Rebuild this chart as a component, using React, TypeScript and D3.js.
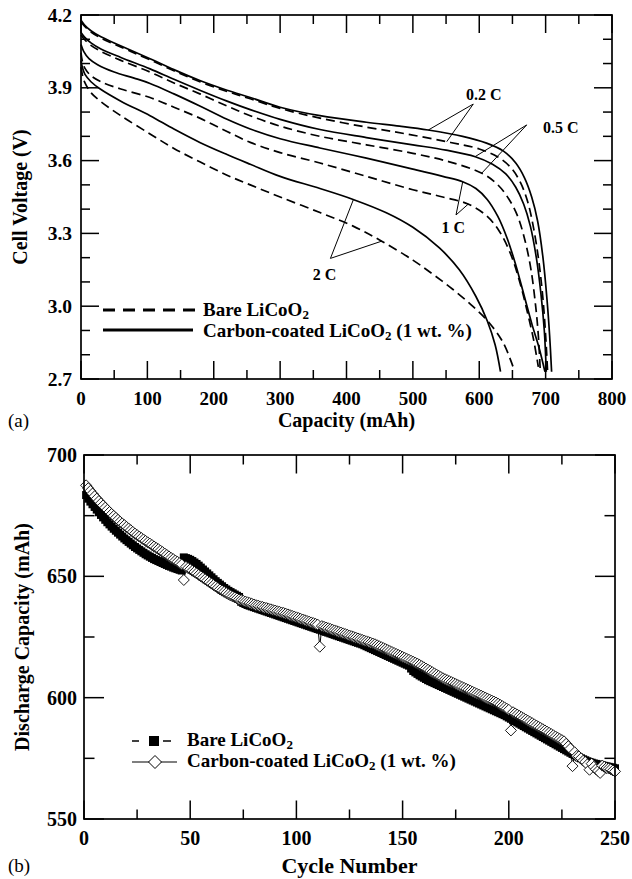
import React from 'react';
import * as d3 from 'd3';

// ---------- Panel (a): discharge curves (capacity mAh, voltage V) ----------
const bare02: [number, number][] = [[0,4.172],[5,4.155],[15,4.13],[30,4.105],[50,4.08],[75,4.05],[104,4.015],[140,3.97],[179,3.925],[220,3.885],[255,3.855],[300,3.815],[360,3.775],[430,3.738],[490,3.71],[551,3.678],[600,3.648],[628,3.615],[648,3.57],[662,3.51],[673,3.43],[682,3.32],[690,3.18],[696,3.03],[700,2.88],[703,2.73]];
const coat02: [number, number][] = [[0,4.178],[5,4.16],[15,4.135],[30,4.11],[50,4.085],[75,4.055],[104,4.02],[140,3.975],[179,3.93],[220,3.89],[255,3.86],[300,3.82],[360,3.785],[430,3.758],[480,3.742],[523,3.726],[575,3.70],[611,3.672],[636,3.64],[655,3.59],[668,3.53],[679,3.45],[688,3.35],[696,3.2],[702,3.03],[706,2.88],[709,2.73]];
const bare05: [number, number][] = [[0,4.118],[5,4.10],[15,4.075],[30,4.05],[60,4.013],[104,3.965],[140,3.92],[179,3.875],[220,3.825],[255,3.785],[300,3.742],[360,3.70],[430,3.665],[500,3.63],[555,3.595],[604,3.548],[628,3.50],[645,3.44],[658,3.37],[669,3.27],[678,3.15],[685,3.0],[689,2.88],[692,2.73]];
const coat05: [number, number][] = [[0,4.128],[5,4.11],[15,4.085],[30,4.06],[60,4.025],[104,3.978],[140,3.935],[179,3.89],[220,3.845],[255,3.81],[300,3.77],[360,3.728],[430,3.695],[500,3.665],[550,3.643],[594,3.616],[620,3.585],[640,3.545],[655,3.49],[667,3.42],[677,3.33],[686,3.2],[693,3.05],[698,2.9],[701,2.73]];
const bare1: [number, number][] = [[0,4.045],[2,4.01],[6,3.98],[15,3.95],[30,3.925],[60,3.895],[104,3.86],[140,3.82],[179,3.775],[220,3.72],[255,3.675],[300,3.633],[360,3.59],[430,3.535],[500,3.48],[545,3.45],[583,3.421],[610,3.375],[630,3.31],[648,3.21],[662,3.09],[673,2.97],[682,2.86],[689,2.75]];
const coat1: [number, number][] = [[0,4.078],[4,4.05],[12,4.02],[25,3.995],[50,3.965],[80,3.94],[104,3.918],[140,3.875],[179,3.825],[220,3.77],[255,3.73],[300,3.69],[360,3.652],[430,3.61],[500,3.565],[545,3.535],[575,3.513],[595,3.485],[612,3.44],[628,3.37],[642,3.28],[655,3.17],[668,3.04],[680,2.92],[690,2.83],[699,2.73]];
const bare2: [number, number][] = [[0,3.985],[2,3.955],[6,3.92],[15,3.88],[29,3.845],[60,3.785],[104,3.71],[140,3.65],[179,3.595],[220,3.54],[255,3.50],[300,3.45],[360,3.386],[410,3.33],[453,3.268],[500,3.19],[531,3.13],[560,3.07],[590,3.0],[614,2.935],[636,2.85],[651,2.75]];
const coat2: [number, number][] = [[0,4.012],[2,3.985],[6,3.955],[15,3.925],[29,3.895],[60,3.845],[104,3.785],[140,3.73],[179,3.675],[220,3.625],[255,3.585],[300,3.535],[360,3.485],[410,3.44],[460,3.385],[500,3.325],[540,3.24],[570,3.15],[595,3.04],[612,2.94],[624,2.84],[632,2.73]];

const bareCurves = [bare02, bare05, bare1, bare2];
const coatCurves = [coat02, coat05, coat1, coat2];

// rate callouts: label position, apex, two targets (data units)
const rateLabels = ['0.2 C', '0.5 C', '1 C', '2 C'];
const rateLabelPos: [number, number, string][] = [[580, 3.85, 'start'], [696, 3.714, 'start'], [561, 3.302, 'middle'], [367, 3.108, 'middle']];
const rateApex: [number, number][] = [[591, 3.833], [671.5, 3.747], [565, 3.376], [375.8, 3.197]];
const rateTargets: [number, number][][] = [
  [[523.2, 3.726], [551, 3.678]],
  [[593.6, 3.616], [603.7, 3.548]],
  [[575.1, 3.513], [583.5, 3.421]],
  [[410.2, 3.438], [453, 3.268]],
];

// ---------- Panel (b): cycle life ----------
const bareCycle: number[] = [
  683.5, 682.0, 680.8, 679.7, 678.6, 677.5, 676.4, 675.3, 674.3, 673.3,
  672.3, 671.4, 670.5, 669.6, 668.8, 668.0, 667.2, 666.4, 665.6, 664.9,
  664.2, 663.5, 662.8, 662.1, 661.5, 660.9, 660.3, 659.7, 659.1, 658.6,
  658.1, 657.6, 657.1, 656.7, 656.3, 655.9, 655.5, 655.1, 654.7, 654.3,
  654.0, 653.6, 653.3, 653.0, 652.7, 652.4, 657.8, 657.5, 657.2, 656.8,
  656.3, 655.7, 655.1, 654.4, 653.6, 652.8, 652.0, 651.2, 650.4, 649.6,
  648.8, 648.0, 647.3, 646.6, 645.9, 645.2, 644.6, 644.0, 643.5, 643.0,
  642.5, 642.0, 641.5, 639.5, 639.0, 638.6, 638.2, 637.9, 637.6, 637.3,
  637.0, 636.7, 636.4, 636.1, 635.8, 635.5, 635.2, 634.9, 634.6, 634.3,
  634.0, 633.7, 633.4, 633.1, 632.8, 632.5, 632.2, 631.9, 631.6, 631.3,
  631.0, 630.7, 630.4, 630.1, 629.8, 629.5, 629.2, 628.9, 628.6, 628.3,
  628.0, 627.7, 627.4, 627.1, 626.8, 626.5, 626.2, 625.9, 625.6, 625.3,
  625.0, 624.7, 624.4, 624.1, 623.8, 623.5, 623.2, 622.9, 622.6, 622.3,
  622.0, 621.6, 621.2, 620.8, 620.4, 620.0, 619.6, 619.2, 618.8, 618.4,
  618.0, 617.6, 617.2, 616.8, 616.4, 616.0, 615.6, 615.2, 614.8, 614.4,
  614.0, 613.6, 613.2, 612.0, 611.0, 610.4, 609.8, 609.2, 608.7, 608.2,
  607.7, 607.2, 606.8, 606.4, 606.0, 605.6, 605.2, 604.8, 604.4, 604.0,
  603.6, 603.2, 602.8, 602.4, 602.0, 601.6, 601.2, 600.8, 600.4, 600.0,
  599.6, 599.2, 598.8, 598.4, 598.0, 597.6, 597.2, 596.8, 596.4, 596.0,
  595.6, 595.2, 594.8, 594.4, 594.0, 593.6, 593.2, 592.8, 592.3, 591.8,
  591.3, 590.8, 590.3, 589.8, 589.3, 588.8, 588.3, 587.8, 587.3, 586.8,
  586.3, 585.8, 585.3, 584.8, 584.3, 583.8, 583.3, 582.8, 582.3, 581.8,
  581.3, 580.8, 580.3, 579.8, 579.3, 578.8, 578.3, 577.8, 577.3, 576.8,
  576.3, 575.8, 575.4, 575.0, 574.6, 574.2, 573.8, 573.5, 573.2, 572.9,
  572.7, 572.5, 572.3, 572.1, 571.9, 571.7, 571.5, 571.3, 571.1, 570.9,
];
const coatCycle: number[] = [
  687.5, 686.3, 685.2, 684.1, 683.0, 682.0, 681.0, 680.1, 679.2, 678.3,
  677.4, 676.5, 675.7, 674.9, 674.1, 673.3, 672.5, 671.8, 671.1, 670.4,
  669.7, 669.0, 668.3, 667.6, 667.0, 666.4, 665.8, 665.2, 664.6, 664.0,
  663.5, 662.9, 662.3, 661.7, 661.2, 660.6, 660.0, 659.4, 658.8, 658.2,
  657.6, 657.1, 656.5, 656.0, 655.4, 654.9, 648.5, 653.9, 653.4, 652.9,
  652.3, 651.8, 651.2, 650.6, 650.0, 649.4, 648.8, 648.2, 647.6, 647.0,
  646.4, 645.8, 645.2, 644.6, 644.1, 643.6, 643.1, 642.6, 642.1, 641.7,
  641.3, 640.9, 640.5, 640.2, 639.9, 639.6, 639.3, 639.0, 638.7, 638.4,
  638.1, 637.9, 637.6, 637.4, 637.1, 636.9, 636.6, 636.4, 636.1, 635.9,
  635.6, 635.4, 635.1, 634.9, 634.6, 634.3, 634.0, 633.7, 633.4, 633.1,
  632.8, 632.5, 632.2, 631.9, 631.6, 631.3, 631.0, 630.7, 630.4, 630.1,
  621.0, 629.5, 629.2, 628.9, 628.6, 628.3, 628.0, 627.7, 627.4, 627.1,
  626.8, 626.5, 626.2, 625.9, 625.6, 625.3, 625.0, 624.7, 624.4, 624.1,
  623.8, 623.5, 623.2, 622.9, 622.6, 622.3, 622.0, 621.6, 621.2, 620.8,
  620.4, 620.0, 619.6, 619.2, 618.8, 618.4, 618.0, 617.6, 617.2, 616.8,
  616.4, 616.0, 615.6, 615.2, 614.8, 614.4, 614.0, 613.5, 613.0, 612.5,
  612.0, 611.5, 611.0, 610.5, 610.0, 609.5, 609.0, 608.5, 608.0, 607.6,
  607.2, 606.8, 606.4, 606.0, 605.6, 605.2, 604.8, 604.4, 604.0, 603.6,
  603.2, 602.8, 602.4, 602.0, 601.6, 601.2, 600.8, 600.4, 600.0, 599.6,
  599.2, 598.8, 598.4, 598.0, 597.5, 597.0, 596.5, 596.0, 595.5, 595.0,
  586.5, 594.0, 593.5, 593.0, 592.5, 592.0, 591.5, 591.0, 590.5, 590.0,
  589.5, 589.0, 588.5, 588.0, 587.5, 587.0, 586.5, 586.0, 585.5, 585.0,
  584.5, 584.0, 583.5, 583.0, 582.5, 582.0, 581.0, 580.0, 579.0, 571.8,
  577.5, 576.0, 575.8, 575.0, 574.0, 573.5, 572.5, 570.3, 572.8, 571.5,
  570.5, 569.8, 569.0, 572.0, 571.5, 571.0, 570.8, 570.5, 570.0, 569.6,
];
const cycles = bareCycle.map((_, i) => i + 1);

// tick values
const xTicksA = d3.range(0, 801, 50);
const yTicksA = d3.range(27, 43).map(v => v / 10);
const xTicksB = d3.range(0, 251, 25);
const yTicksB = d3.range(550, 701, 25);

const FONT = "'Liberation Serif', 'Times New Roman', serif";
const W = 632, H = 879;

// scales
const xA = d3.scaleLinear().domain([0, 800]).range([81, 612]);
const yA = d3.scaleLinear().domain([2.7, 4.2]).range([379, 15]);
const xB = d3.scaleLinear().domain([0, 250]).range([84, 615]);
const yB = d3.scaleLinear().domain([550, 700]).range([819, 455]);

const lineA = d3.line<[number, number]>().x(d => xA(d[0])).y(d => yA(d[1])).curve(d3.curveCatmullRom.alpha(0.5));

function LegendLabel({ x, y, coated }: { x: number; y: number; coated: boolean }) {
  return (
    <text x={x} y={y} fontFamily={FONT} fontWeight="bold" fontSize={19}>
      {coated ? 'Carbon-coated LiCoO' : 'Bare LiCoO'}
      <tspan fontSize={13} dy={3}>2</tspan>
      {coated ? <tspan dy={-3}> (1 wt. %)</tspan> : null}
    </text>
  );
}

export default function App() {
  const [x0, x1] = xA.range();
  const [y0, y1] = yA.range();
  const [bx0, bx1] = xB.range();
  const [by0, by1] = yB.range();

  const lineB = d3.line<number>().x((_, i) => xB(cycles[i])).y(d => yB(d));
  const diamond = (r: number) => `M0,${-r}L${r},0L0,${r}L${-r},0Z`;

  return (
    <svg width={W} height={H} style={{ position: 'absolute', left: 0, top: 0, background: '#fff' }}>
      <rect width={W} height={H} fill="#fff" />
      {/* ================= Panel (a) ================= */}
      <g>
        {bareCurves.map((c, i) => (
          <path key={'b' + i} d={lineA(c) || ''} fill="none" stroke="#000" strokeWidth={1.7} strokeDasharray="9 5" />
        ))}
        {coatCurves.map((c, i) => (
          <path key={'c' + i} d={lineA(c) || ''} fill="none" stroke="#000" strokeWidth={1.7} />
        ))}
        <rect x={x0} y={y1} width={x1 - x0} height={y0 - y1} fill="none" stroke="#000" strokeWidth={1.7} />
        {xTicksA.map(t => {
          const major = t % 100 === 0;
          const len = major ? 18 : 9;
          return (
            <g key={'xa' + t}>
              <line x1={xA(t)} x2={xA(t)} y1={y0} y2={y0 - len} stroke="#000" strokeWidth={1.5} />
              <line x1={xA(t)} x2={xA(t)} y1={y1} y2={y1 + len} stroke="#000" strokeWidth={1.5} />
              {major && (
                <text x={xA(t)} y={405} textAnchor="middle" fontFamily={FONT} fontWeight="bold" fontSize={19}>{t}</text>
              )}
            </g>
          );
        })}
        {yTicksA.map(t => {
          const major = Math.round(t * 10) % 3 === 0;
          const len = major ? 18 : 9;
          return (
            <g key={'ya' + t}>
              <line x1={x0} x2={x0 + len} y1={yA(t)} y2={yA(t)} stroke="#000" strokeWidth={1.5} />
              <line x1={x1} x2={x1 - len} y1={yA(t)} y2={yA(t)} stroke="#000" strokeWidth={1.5} />
              {major && (
                <text x={72} y={yA(t) + 6.5} textAnchor="end" fontFamily={FONT} fontWeight="bold" fontSize={19.5}>{t.toFixed(1)}</text>
              )}
            </g>
          );
        })}
        <text x={(x0 + x1) / 2} y={427} textAnchor="middle" fontFamily={FONT} fontWeight="bold" fontSize={20}>Capacity (mAh)</text>
        <text transform={`translate(27,${(y0 + y1) / 2}) rotate(-90)`} textAnchor="middle" fontFamily={FONT} fontWeight="bold" fontSize={20}>Cell Voltage (V)</text>
        <text x={8} y={427} fontFamily={FONT} fontSize={19}>(a)</text>
        {/* legend */}
        <line x1={103} x2={196} y1={310} y2={310} stroke="#000" strokeWidth={3} strokeDasharray="12 8" />
        <LegendLabel x={203} y={316} coated={false} />
        <line x1={103} x2={193} y1={330} y2={330} stroke="#000" strokeWidth={3} />
        <LegendLabel x={203} y={337} coated={true} />
        {/* rate callouts */}
        {rateLabels.map((lab, i) => {
          const [lx, ly, anchor] = rateLabelPos[i];
          const [ax, ay] = rateApex[i];
          return (
            <g key={'r' + i}>
              {rateTargets[i].map((tp, j) => (
                <line key={j} x1={xA(ax)} y1={yA(ay)} x2={xA(tp[0])} y2={yA(tp[1])} stroke="#000" strokeWidth={1} />
              ))}
              <text x={xA(lx)} y={yA(ly)} textAnchor={anchor} fontFamily={FONT} fontWeight="bold" fontSize={16}>{lab}</text>
            </g>
          );
        })}
      </g>

      {/* ================= Panel (b) ================= */}
      <g>
        <path d={lineB(bareCycle) || ''} fill="none" stroke="#000" strokeWidth={1} strokeDasharray="5 3" />
        {bareCycle.map((v, i) => (
          <rect key={'bs' + i} x={xB(cycles[i]) - 4} y={yB(v) - 4} width={8} height={8} fill="#000" />
        ))}
        <path d={lineB(coatCycle) || ''} fill="none" stroke="#000" strokeWidth={1} />
        {coatCycle.map((v, i) => (
          <path key={'cd' + i} d={diamond(5.5)} transform={`translate(${xB(cycles[i])},${yB(v)})`} fill="#fff" stroke="#000" strokeWidth={0.9} />
        ))}
        <rect x={bx0} y={by1} width={bx1 - bx0} height={by0 - by1} fill="none" stroke="#000" strokeWidth={1.7} />
        {xTicksB.map(t => {
          const major = t % 50 === 0;
          const len = major ? 18.5 : 9.5;
          return (
            <g key={'xb' + t}>
              <line x1={xB(t)} x2={xB(t)} y1={by0} y2={by0 - len} stroke="#000" strokeWidth={1.5} />
              <line x1={xB(t)} x2={xB(t)} y1={by1} y2={by1 + len} stroke="#000" strokeWidth={1.5} />
              {major && (
                <text x={xB(t)} y={845} textAnchor="middle" fontFamily={FONT} fontWeight="bold" fontSize={20}>{t}</text>
              )}
            </g>
          );
        })}
        {yTicksB.map(t => {
          const major = t % 50 === 0;
          const len = major ? 20 : 10.5;
          return (
            <g key={'yb' + t}>
              <line x1={bx0} x2={bx0 + len} y1={yB(t)} y2={yB(t)} stroke="#000" strokeWidth={1.5} />
              <line x1={bx1} x2={bx1 - len} y1={yB(t)} y2={yB(t)} stroke="#000" strokeWidth={1.5} />
              {major && (
                <text x={77} y={yB(t) + 7} textAnchor="end" fontFamily={FONT} fontWeight="bold" fontSize={20}>{t}</text>
              )}
            </g>
          );
        })}
        <text x={(bx0 + bx1) / 2} y={873} textAnchor="middle" fontFamily={FONT} fontWeight="bold" fontSize={22}>Cycle Number</text>
        <text transform={`translate(29,${(by0 + by1) / 2}) rotate(-90)`} textAnchor="middle" fontFamily={FONT} fontWeight="bold" fontSize={20}>Discharge Capacity (mAh)</text>
        <text x={8} y={872} fontFamily={FONT} fontSize={19}>(b)</text>
        {/* legend */}
        <line x1={132} x2={139} y1={741} y2={741} stroke="#000" strokeWidth={1.5} />
        <line x1={163} x2={171} y1={741} y2={741} stroke="#000" strokeWidth={1.5} />
        <rect x={149} y={736} width={10} height={10} fill="#000" />
        <LegendLabel x={187} y={746} coated={false} />
        <line x1={132} x2={177} y1={762} y2={762} stroke="#000" strokeWidth={1.2} />
        <path d={diamond(6.5)} transform="translate(155,762)" fill="#fff" stroke="#000" strokeWidth={1} />
        <LegendLabel x={187} y={767} coated={true} />
      </g>
    </svg>
  );
}
